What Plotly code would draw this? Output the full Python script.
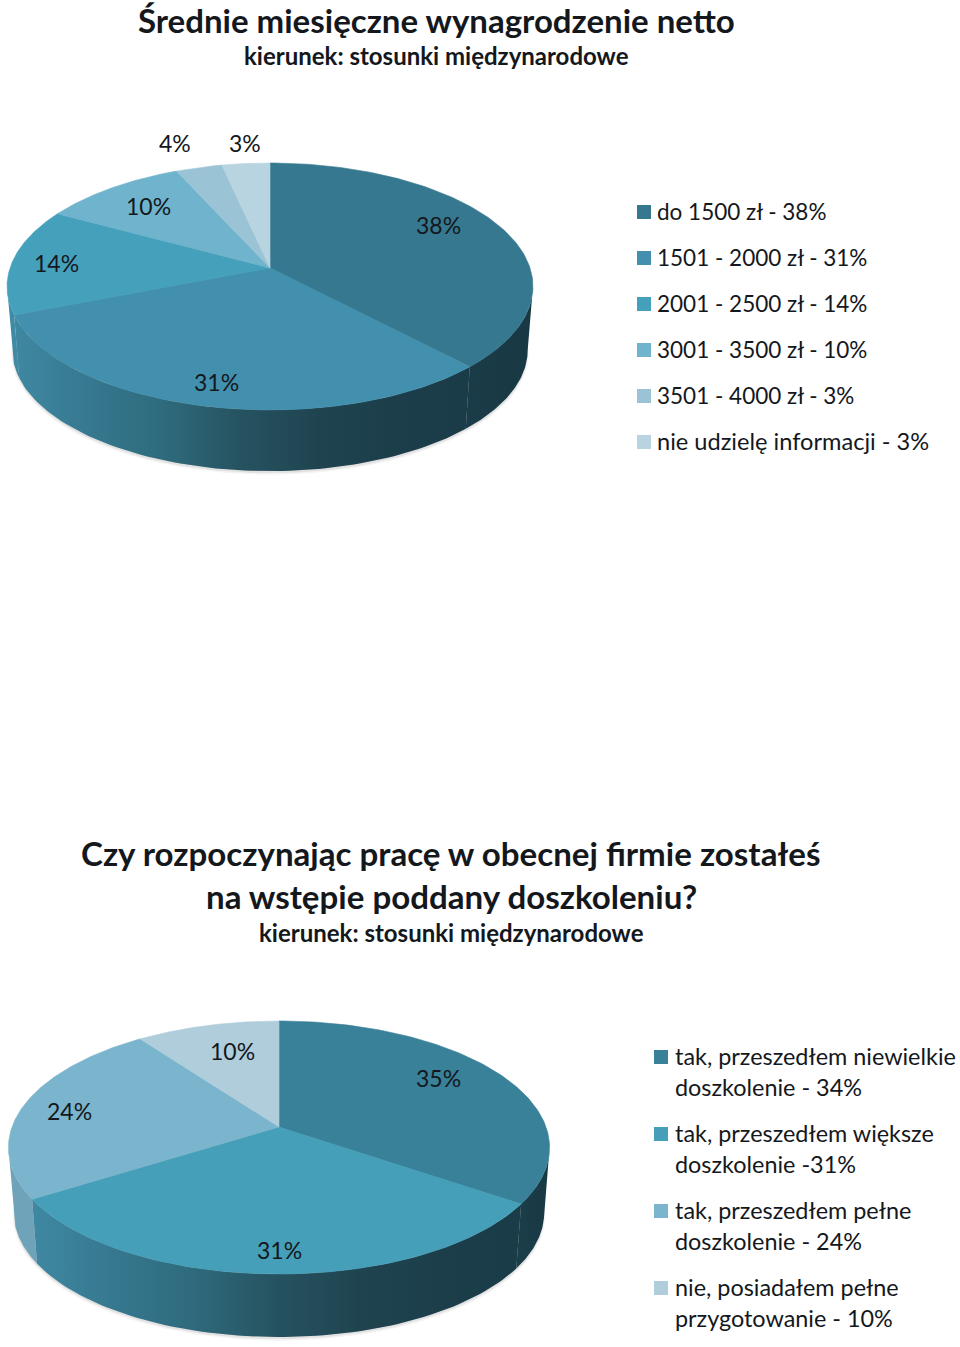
import numpy as np
import plotly.graph_objects as go

# ---------- data ----------
title_a = "Średnie miesięczne wynagrodzenie netto"
subtitle_a = "kierunek: stosunki międzynarodowe"
values_a = [38, 31, 14, 10.3, 3.3, 3.4]
labels_a = ["38%", "31%", "14%", "10%", "4%", "3%"]
legend_a = ["do 1500 zł - 38%", "1501 - 2000 zł - 31%", "2001 - 2500 zł - 14%",
            "3001 - 3500 zł - 10%", "3501 - 4000 zł - 3%", "nie udzielę informacji - 3%"]

title_b = ["Czy rozpoczynając pracę w obecnej firmie zostałeś", "na wstępie poddany doszkoleniu?"]
subtitle_b = "kierunek: stosunki międzynarodowe"
values_b = [34.6, 31.4, 24, 10]
labels_b = ["35%", "31%", "24%", "10%"]
legend_b = [["tak, przeszedłem niewielkie", "doszkolenie - 34%"],
            ["tak, przeszedłem większe", "doszkolenie -31%"],
            ["tak, przeszedłem pełne", "doszkolenie - 24%"],
            ["nie, posiadałem pełne", "przygotowanie - 10%"]]

# ---------- style / layout ----------
W, H, SPLIT = 960, 1347, 674
FONT = "Lato, Carlito, Calibri, sans-serif"
INK = "#14181c"
LABEL_SIZE = 23
LEGEND_SIZES_A = [22.5, 22.5, 22.5, 22.5, 22.5, 23.6]
LEGEND_SIZE_B = 23.4
TITLE_SIZE_A, TITLE_SIZE_B, SUB_SIZE = 33, 33.1, 24


def ramp(*cols):
    return [[i / (len(cols) - 1), c] for i, c in enumerate(cols)]


MAIN_RIM = ("#3F88A2", "#36788F", "#2E6A7C", "#265260", "#1F4450", "#1B3E4A", "#1A3C48")
style_a = dict(
    cx=270, cy=268, R=260, Hy=120.7, k=0.1497, depth=64, shrink=0.98,
    top=["#35788F", "#4290AD", "#45A0BC", "#6FB3CC", "#9AC4D6", "#B8D4E0"],
    side=[ramp("#1A3C48", "#183843"), ramp(*MAIN_RIM), ramp("#3F8BA6", "#3F8BA6"),
          ramp("#5A98B0", "#5A98B0"), ramp("#7AA5B8", "#7AA5B8"), ramp("#98B5C2", "#98B5C2")],
    label_xy=[(438, 225), (216, 382), (56, 263), (148, 206), (175, 143), (245, 143)],
)
style_b = dict(
    cx=279, cy=1127, R=267, Hy=123.2, k=0.162, depth=66, shrink=0.98,
    top=["#398099", "#459FB8", "#7AB5CD", "#AFCDDB"],
    side=[ramp("#1B3E4A", "#183843"), ramp(*MAIN_RIM), ramp("#6FA3BA", "#6FA3BA"),
          ramp("#90B0BF", "#90B0BF")],
    label_xy=[(438, 1078), (279, 1250), (69, 1111), (232, 1051)],
)


def project(theta, s, dy=0.0, scale=1.0):
    """Angle clockwise from 12 o'clock -> page position of a circle seen in perspective."""
    u, v = np.sin(theta), np.cos(theta)
    d = 1 + s["k"] * v
    return (s["cx"] + scale * s["R"] * u / d,
            s["cy"] + dy - scale * s["Hy"] * v / d)


fig = go.Figure()


def draw_pie(values, labels, s, xa, ya):
    total = sum(values)
    edges = 2 * np.pi * np.cumsum([0] + list(values)) / total
    lim = np.arccos(-s["k"])            # silhouette angle on the right side
    vis_lo, vis_hi = lim, 2 * np.pi - lim

    # soft shadow under the body
    t = np.linspace(0, 2 * np.pi, 240)
    for grow, dy, alpha in [(1.004, 3, 0.06), (1.0, 2, 0.10), (0.992, 1, 0.16)]:
        x, y = project(t, s, s["depth"] + dy, s["shrink"] * grow)
        fig.add_trace(go.Scatter(x=x, y=y, xaxis=xa, yaxis=ya, mode="lines", fill="toself",
                                 line=dict(width=0), fillcolor=f"rgba(60,60,60,{alpha})",
                                 hoverinfo="skip", showlegend=False))

    # rim
    for i in range(len(values)):
        a, b = max(edges[i], vis_lo), min(edges[i + 1], vis_hi)
        if b <= a:
            continue
        t = np.linspace(a, b, 80)
        x1, y1 = project(t, s)
        x2, y2 = project(t[::-1], s, s["depth"], s["shrink"])
        x = np.r_[x1, x2, x1[0]]
        y = np.r_[y1, y2, y1[0]]
        fig.add_trace(go.Scatter(
            x=x, y=y, xaxis=xa, yaxis=ya, mode="lines", fill="toself",
            line=dict(width=0), hoverinfo="skip", showlegend=False,
            fillgradient=dict(type="horizontal", start=float(x.min()), stop=float(x.max()),
                              colorscale=s["side"][i])))

    # top face
    for i in range(len(values)):
        t = np.linspace(edges[i], edges[i + 1], 120)
        x, y = project(t, s)
        fig.add_trace(go.Scatter(
            x=np.r_[s["cx"], x, s["cx"]], y=np.r_[s["cy"], y, s["cy"]],
            xaxis=xa, yaxis=ya, mode="lines", fill="toself",
            line=dict(width=0.6, color=s["top"][i]), fillcolor=s["top"][i],
            name=labels[i], hoverinfo="name", showlegend=False))

    # value labels
    for txt, (lx, ly) in zip(labels, s["label_xy"]):
        fig.add_annotation(x=lx, y=ly, xref=xa, yref=ya, text=txt, showarrow=False,
                           xanchor="center", yanchor="middle",
                           font=dict(family=FONT, size=LABEL_SIZE, color=INK))


def text(x, y, t, xa, ya, size, bold=False, anchor="center"):
    fig.add_annotation(x=x, y=y, xref=xa, yref=ya, text=f"<b>{t}</b>" if bold else t,
                       showarrow=False, xanchor=anchor, yanchor="middle",
                       font=dict(family=FONT, size=size, color=INK))


def swatch(x, y, color, xa, ya):
    fig.add_trace(go.Scatter(x=[x], y=[y], xaxis=xa, yaxis=ya, mode="markers",
                             marker=dict(symbol="square", size=14, color=color),
                             hoverinfo="skip", showlegend=False))


draw_pie(values_a, labels_a, style_a, "x", "y")
draw_pie(values_b, labels_b, style_b, "x2", "y2")

# titles
text(436, 20, title_a, "x", "y", TITLE_SIZE_A, True)
text(436, 55, subtitle_a, "x", "y", SUB_SIZE, True)
text(451, 853, title_b[0], "x2", "y2", TITLE_SIZE_B, True)
text(451, 896, title_b[1], "x2", "y2", TITLE_SIZE_B, True)
text(451, 933, subtitle_b, "x2", "y2", SUB_SIZE, True)

# legends
for i, name in enumerate(legend_a):
    row = 212 + 46 * i
    swatch(644, row, style_a["top"][i], "x", "y")
    text(655, row - 1, name, "x", "y", LEGEND_SIZES_A[i], anchor="left")

for i, lines in enumerate(legend_b):
    row = 1057 + 77 * i
    swatch(661, row, style_b["top"][i], "x2", "y2")
    text(673, row - 1, lines[0], "x2", "y2", LEGEND_SIZE_B, anchor="left")
    text(673, row + 30, lines[1], "x2", "y2", LEGEND_SIZE_B, anchor="left")

axis = dict(visible=False, fixedrange=True)
frac = 1 - SPLIT / H
fig.update_layout(
    width=W, height=H, margin=dict(l=0, r=0, t=0, b=0),
    paper_bgcolor="white", plot_bgcolor="white", showlegend=False,
    xaxis=dict(axis, range=[0, W], domain=[0, 1], anchor="y"),
    yaxis=dict(axis, range=[SPLIT, 0], domain=[frac, 1], anchor="x"),
    xaxis2=dict(axis, range=[0, W], domain=[0, 1], anchor="y2"),
    yaxis2=dict(axis, range=[H, SPLIT], domain=[0, frac], anchor="x2"),
)

fig.write_html("out.html", config={"displayModeBar": False},
               post_script="document.body.style.margin='0';")
